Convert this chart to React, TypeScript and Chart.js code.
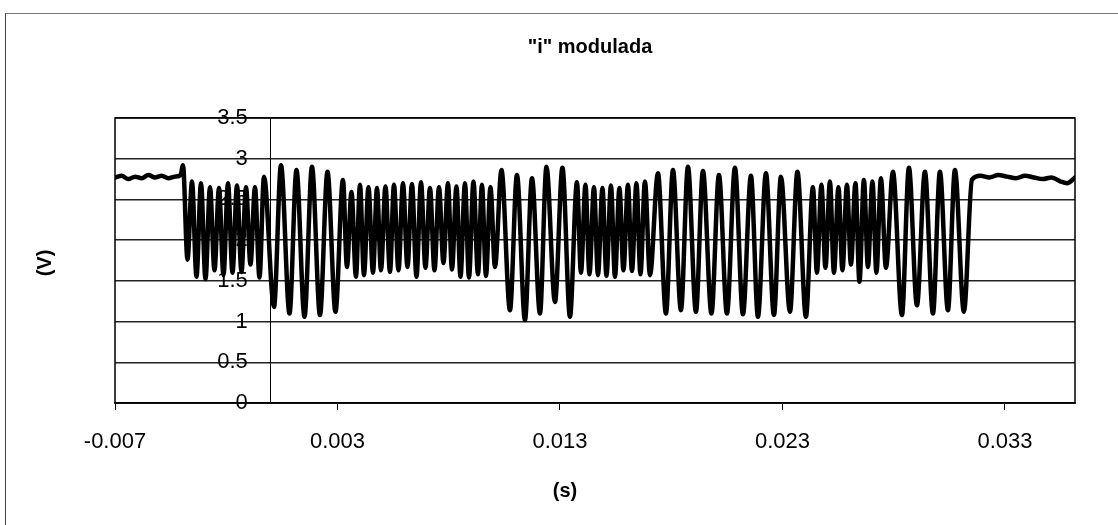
import React, { useEffect, useRef } from "react";
import { Chart, registerables } from "chart.js";

Chart.register(...registerables);

// ---- texts ----
const chartTitle = '"i" modulada';
const xAxisTitle = "(s)";
const yAxisTitle = "(V)";

// ---- axes ----
const xMin = -0.007;
const xMax = 0.03615;
const xTickValues = [-0.007, 0.003, 0.013, 0.023, 0.033];
const yAxisCrossing = 0; // the vertical axis line crosses at t = 0
const yLabelAnchor = -0.00103; // where the y tick labels end (just left of t = 0)
const yMin = 0;
const yMax = 3.5;
const yStep = 0.5;

// ---- signal: [time in ms, volts] ----
const flatStart: [number, number][] = [
  [-7.0, 2.77], [-6.7, 2.79], [-6.4, 2.75], [-6.1, 2.78], [-5.8, 2.76], [-5.5, 2.8],
  [-5.2, 2.77], [-4.9, 2.79], [-4.6, 2.76], [-4.3, 2.78], [-4.05, 2.8],
];
const hf1: [number, number][] = [
  [-3.944, 2.92], [-3.742, 1.76], [-3.539, 2.72], [-3.337, 1.55], [-3.135, 2.7], [-2.933, 1.52],
  [-2.73, 2.65], [-2.528, 1.63], [-2.326, 2.64], [-2.124, 1.57], [-1.921, 2.7], [-1.719, 1.6],
  [-1.517, 2.67], [-1.315, 1.61], [-1.112, 2.65], [-0.91, 1.7], [-0.708, 2.65], [-0.506, 1.54],
  [-0.303, 2.78],
];
const lf1: [number, number][] = [
  [0.146, 1.18], [0.461, 2.92], [0.843, 1.1], [1.157, 2.86], [1.517, 1.06], [1.854, 2.9],
  [2.213, 1.08], [2.551, 2.84], [2.91, 1.12],
];
const hf2: [number, number][] = [
  [3.247, 2.74], [3.427, 1.67], [3.629, 2.59], [3.831, 1.55], [4.011, 2.68], [4.191, 1.57],
  [4.393, 2.65], [4.596, 1.6], [4.775, 2.64], [4.955, 1.63], [5.157, 2.66], [5.36, 1.61],
  [5.539, 2.68], [5.742, 1.63], [5.944, 2.7], [6.146, 1.67], [6.348, 2.69], [6.551, 1.55],
  [6.753, 2.71], [6.955, 1.66], [7.157, 2.64], [7.36, 1.63], [7.562, 2.65], [7.764, 1.72],
  [7.966, 2.7], [8.146, 1.64], [8.348, 2.66], [8.528, 1.55], [8.73, 2.7], [8.91, 1.54],
  [9.112, 2.72], [9.315, 1.58], [9.494, 2.68], [9.674, 1.56], [9.876, 2.65], [10.079, 1.67],
];
const lf2: [number, number][] = [
  [10.371, 2.86], [10.753, 1.14], [11.067, 2.8], [11.427, 1.02], [11.742, 2.76], [12.101, 1.1],
  [12.393, 2.9], [12.775, 1.24], [13.112, 2.89], [13.449, 1.06],
];
const hf3: [number, number][] = [
  [13.764, 2.71], [13.944, 1.6], [14.146, 2.68], [14.326, 1.58], [14.528, 2.65], [14.708, 1.57],
  [14.91, 2.64], [15.09, 1.56], [15.292, 2.67], [15.472, 1.55], [15.674, 2.64], [15.854, 1.63],
  [16.056, 2.68], [16.236, 1.62], [16.438, 2.7], [16.618, 1.58], [16.82, 2.72], [17.045, 1.57],
];
const lf3: [number, number][] = [
  [17.404, 2.82], [17.764, 1.1], [18.079, 2.86], [18.438, 1.14], [18.753, 2.9], [19.112, 1.12],
  [19.427, 2.85], [19.809, 1.1], [20.146, 2.8], [20.506, 1.1], [20.865, 2.89], [21.225, 1.09],
  [21.584, 2.79], [21.899, 1.06], [22.258, 2.82], [22.618, 1.08], [22.933, 2.78], [23.337, 1.12],
  [23.674, 2.84], [24.056, 1.06],
];
const hf4: [number, number][] = [
  [24.371, 2.65], [24.551, 1.6], [24.753, 2.68], [24.933, 1.66], [25.135, 2.72], [25.315, 1.6],
  [25.517, 2.65], [25.697, 1.63], [25.899, 2.68], [26.079, 1.7], [26.281, 2.7], [26.461, 1.49],
  [26.663, 2.74], [26.843, 1.67], [27.045, 2.72], [27.225, 1.6], [27.427, 2.76], [27.652, 1.66],
];
const lf4: [number, number][] = [
  [27.966, 2.84], [28.371, 1.08], [28.685, 2.89], [29.045, 1.2], [29.404, 2.84], [29.764, 1.1],
  [30.079, 2.84], [30.438, 1.14], [30.753, 2.86], [31.157, 1.12],
];
const flatEnd: [number, number][] = [
  [31.517, 2.74], [31.9, 2.79], [32.3, 2.77], [32.7, 2.8], [33.1, 2.78], [33.5, 2.76],
  [33.9, 2.79], [34.3, 2.77], [34.7, 2.75], [35.1, 2.77], [35.5, 2.72], [35.8, 2.7], [36.15, 2.77],
];

const segments = [flatStart, hf1, lf1, hf2, lf2, hf3, lf3, hf4, lf4, flatEnd];

const FONT = '"Liberation Sans", Arial, sans-serif';

const framePlugin = {
  id: "frameAndTitles",
  afterDraw(chart: any) {
    const { ctx, chartArea } = chart;
    const { left, top, right, bottom } = chartArea;
    ctx.save();
    ctx.strokeStyle = "#000";
    ctx.lineWidth = 1.5;
    ctx.strokeRect(left, top, right - left, bottom - top);
    ctx.fillStyle = "#000";
    ctx.font = `bold 20px ${FONT}`;
    ctx.textAlign = "center";
    ctx.textBaseline = "middle";
    ctx.fillText(chartTitle, 590, 47);
    ctx.fillText(xAxisTitle, 565, 491);
    ctx.translate(45, 263);
    ctx.rotate(-Math.PI / 2);
    ctx.fillText(yAxisTitle, 0, 0);
    ctx.restore();
  },
};

export default function App() {
  const canvasRef = useRef<HTMLCanvasElement | null>(null);

  useEffect(() => {
    if (!canvasRef.current) return;
    const points = segments.flat().map(([ms, v]) => ({ x: ms / 1000, y: v }));
    const chart = new Chart(canvasRef.current, {
      type: "line",
      data: {
        datasets: [
          {
            data: points,
            borderColor: "#000",
            borderWidth: 4.5,
            pointRadius: 0,
            fill: false,
            cubicInterpolationMode: "monotone",
            borderJoinStyle: "round",
            borderCapStyle: "round",
          },
        ],
      },
      options: {
        responsive: false,
        animation: false,
        layout: { padding: { left: 115, right: 43, top: 118, bottom: 0 } },
        plugins: {
          legend: { display: false },
          tooltip: { enabled: false },
          title: { display: false },
        },
        scales: {
          x: {
            type: "linear",
            min: xMin,
            max: xMax,
            afterBuildTicks: (scale: any) => {
              scale.ticks = xTickValues.map((value) => ({ value }));
            },
            afterFit: (scale: any) => {
              scale.height = 122;
            },
            ticks: {
              autoSkip: false,
              maxRotation: 0,
              padding: 19,
              color: "#000",
              font: { size: 22, family: FONT },
              callback: (v: any) => Number(v).toFixed(3),
            },
            grid: {
              drawOnChartArea: false,
              drawTicks: true,
              tickLength: 7,
              color: "#000",
              lineWidth: 1,
            },
            border: { display: true, color: "#000", width: 1.5 },
          },
          y: {
            type: "linear",
            min: yMin,
            max: yMax,
            position: { x: yLabelAnchor },
            ticks: {
              stepSize: yStep,
              padding: 0,
              color: "#000",
              font: { size: 22, family: FONT },
              callback: (v: any) => String(Number(v)),
            },
            grid: { color: "#222", lineWidth: 1.5, drawTicks: false },
            border: { display: false },
          },
          yZero: {
            type: "linear",
            min: yMin,
            max: yMax,
            position: { x: yAxisCrossing },
            ticks: { display: false },
            grid: { display: false, drawTicks: false },
            border: { display: true, color: "#000", width: 1 },
          },
        },
      },
      plugins: [framePlugin],
    } as any);
    return () => chart.destroy();
  }, []);

  return (
    <div
      style={{
        position: "absolute",
        left: 0,
        top: 0,
        width: 1118,
        height: 525,
        overflow: "hidden",
        background: "#fff",
      }}
    >
      <canvas ref={canvasRef} width={1118} height={525} style={{ display: "block" }} />
      <div
        style={{
          position: "absolute",
          left: 5,
          top: 13,
          width: 1200,
          height: 600,
          borderLeft: "1px solid #444",
          borderTop: "1px solid #777",
          pointerEvents: "none",
        }}
      />
    </div>
  );
}
